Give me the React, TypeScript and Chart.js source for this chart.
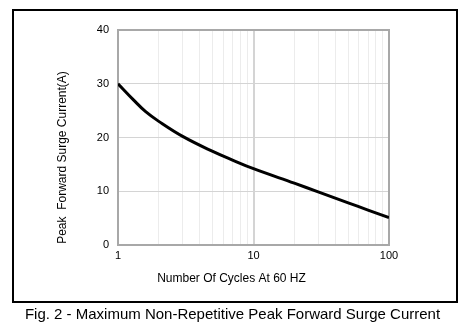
import React, { useEffect, useRef } from "react";
import { Chart, registerables } from "chart.js";

Chart.register(...registerables);

const cycles = [1, 1.3, 1.6, 2, 3, 5, 7, 10, 20, 30, 50, 70, 100];
const current = [30, 27.0, 24.8, 23.0, 20.2, 17.4, 15.8, 14.2, 11.5, 9.9, 7.85, 6.5, 5.1];
const xTickLabels = [1, 10, 100];
const yTicks = [0, 10, 20, 30, 40];
const xTitle = "Number Of Cycles At 60 HZ";
const yTitle = "Peak  Forward Surge Current(A)";
const caption = "Fig. 2 - Maximum Non-Repetitive Peak Forward Surge Current";

const FONT = "'Liberation Sans', Arial, sans-serif";

export default function App() {
  const ref = useRef<HTMLCanvasElement | null>(null);
  useEffect(() => {
    if (!ref.current) return;
    const frame = {
      id: "frame",
      beforeDatasetsDraw(chart: any) {
        const { ctx, chartArea: a } = chart;
        ctx.save();
        ctx.strokeStyle = "#a8a8a8";
        ctx.lineWidth = 2;
        ctx.strokeRect(a.left, a.top, a.right - a.left, a.bottom - a.top);
        ctx.restore();
      },
      afterDraw(chart: any) {
        const { ctx, chartArea: a } = chart;
        ctx.save();
        ctx.fillStyle = "#000";
        ctx.font = "12px " + FONT;
        ctx.textAlign = "center";
        ctx.textBaseline = "middle";
        ctx.fillText(xTitle, a.left + (a.right - a.left) / 2 - 22, 279);
        ctx.translate(63, a.top + (a.bottom - a.top) / 2 + 20);
        ctx.rotate(-Math.PI / 2);
        ctx.fillText(yTitle, 0, 0);
        ctx.restore();
      },
    };
    const chart = new Chart(ref.current, {
      type: "line",
      data: {
        datasets: [
          {
            data: cycles.map((c, i) => ({ x: c, y: current[i] })),
            borderColor: "#000",
            borderWidth: 3,
            pointRadius: 0,
            tension: 0.4,
            fill: false,
          },
        ],
      },
      options: {
        animation: false,
        responsive: false,
        layout: { padding: { left: 0, top: 30, right: 82, bottom: 0 } },
        plugins: { legend: { display: false }, tooltip: { enabled: false } },
        scales: {
          x: {
            type: "logarithmic",
            min: 1,
            max: 100,
            afterFit(s: any) {
              s.height = 81;
            },
            afterBuildTicks(s: any) {
              const t: any[] = [];
              for (let d = 1; d < 100; d *= 10) {
                for (let k = 1; k < 10; k++) t.push({ value: k * d });
              }
              t.push({ value: 100 });
              s.ticks = t;
            },
            ticks: {
              autoSkip: false,
              maxRotation: 0,
              padding: 4,
              color: "#000",
              font: { size: 11, family: FONT },
              callback: (v: any) => (xTickLabels.includes(Number(v)) ? String(v) : ""),
            },
            grid: {
              drawTicks: false,
              color: (c: any) =>
                c.tick && xTickLabels.includes(c.tick.value) ? "#d4d4d4" : "#ececec",
              lineWidth: (c: any) =>
                c.tick && xTickLabels.includes(c.tick.value) ? 2 : 1,
            },
            border: { display: false },
          },
          y: {
            min: 0,
            max: 40,
            afterFit(s: any) {
              s.width = 118;
            },
            afterBuildTicks(s: any) {
              s.ticks = yTicks.map((v) => ({ value: v }));
            },
            ticks: {
              padding: 9,
              color: "#000",
              font: { size: 11, family: FONT },
            },
            grid: { drawTicks: false, color: "#d4d4d4", lineWidth: 1 },
            border: { display: false },
          },
        },
      },
      plugins: [frame],
    } as any);
    return () => chart.destroy();
  }, []);
  return (
    <div style={{ position: "absolute", left: 0, top: 0, width: 471, height: 326, background: "#fff" }}>
      <canvas ref={ref} width={471} height={326} style={{ position: "absolute", left: 0, top: 0 }} />
      <div
        style={{
          position: "absolute",
          left: 12,
          top: 9,
          width: 446,
          height: 294,
          border: "2px solid #000",
          boxSizing: "border-box",
          pointerEvents: "none",
        }}
      />
      <div
        style={{
          position: "absolute",
          left: 0,
          top: 304,
          width: 465,
          textAlign: "center",
          fontFamily: FONT,
          fontSize: 15,
          lineHeight: "20px",
          color: "#000",
          whiteSpace: "nowrap",
        }}
      >
        {caption}
      </div>
    </div>
  );
}
